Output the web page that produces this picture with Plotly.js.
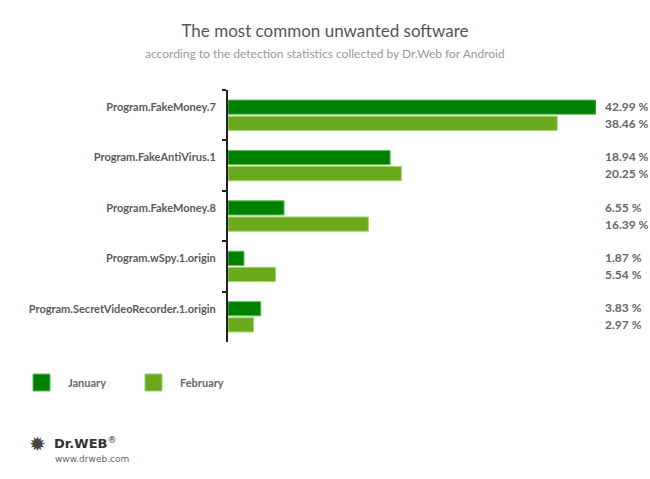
<!DOCTYPE html>
<html>
<head>
<meta charset="utf-8">
<script src="https://cdn.plot.ly/plotly-3.0.1.min.js"></script>
<style>html,body{margin:0;padding:0;background:#fff;}#chart{width:650px;height:479px;}</style>
</head>
<body>
<div id="chart"></div>
<script>
// ---- data ----
var categories = ["Program.FakeMoney.7", "Program.FakeAntiVirus.1", "Program.FakeMoney.8", "Program.wSpy.1.origin", "Program.SecretVideoRecorder.1.origin"];
var seriesNames = ["January", "February"];
var january = [42.99, 18.94, 6.55, 1.87, 3.83];
var february = [38.46, 20.25, 16.39, 5.54, 2.97];
var seriesColors = ["#008000", "#6aa81c"];
var seriesLines = ["#5cbf5c", "#9fd16a"];
var titleText = "The most common unwanted software";
var subtitleText = "according to the detection statistics collected by Dr.Web for Android";

// ---- geometry ----
var W = 650, H = 479;
var M = {l: 228, r: 54, t: 90, b: 137};
var PW = W - M.l - M.r, PH = H - M.t - M.b;
function px(x) { return (x - M.l) / PW; }
function py(y) { return 1 - (y - M.t) / PH; }

var FONT = "Lato, 'Open Sans', sans-serif";
var seriesValues = [january, february];

var traces = seriesValues.map(function (vals, i) {
  return {
    type: "bar",
    orientation: "h",
    name: seriesNames[i],
    y: categories,
    x: vals,
    marker: {color: seriesColors[i], line: {color: seriesLines[i], width: 1}},
    showlegend: false,
    hoverinfo: "x+y"
  };
});

var annotations = [];
// value labels
seriesValues.forEach(function (vals, i) {
  vals.forEach(function (v, j) {
    annotations.push({
      xref: "paper", yref: "y", x: 1, y: categories[j],
      xshift: 7, yshift: i === 0 ? 9 : -8,
      xanchor: "left", yanchor: "middle", showarrow: false,
      text: v.toFixed(2) + " %",
      font: {family: FONT, size: 12, color: "#666", weight: 700}
    });
  });
});
// subtitle
annotations.push({
  xref: "paper", yref: "paper", x: px(325), y: py(53),
  xanchor: "center", yanchor: "middle", showarrow: false,
  text: subtitleText, font: {family: FONT, size: 12, color: "#999"}
});
// legend
var shapes = [];
var legendX = [33, 145];
seriesNames.forEach(function (n, i) {
  shapes.push({
    type: "rect", xref: "paper", yref: "paper",
    x0: px(legendX[i]), x1: px(legendX[i] + 17), y0: py(374), y1: py(391),
    fillcolor: seriesColors[i], line: {color: seriesLines[i], width: 1}
  });
  annotations.push({
    xref: "paper", yref: "paper", x: px(legendX[i] + 33), y: py(382),
    xanchor: "left", yanchor: "middle", showarrow: false,
    text: n, font: {family: FONT, size: 11, color: "#666", weight: 700}
  });
});
// logo
annotations.push({
  xref: "paper", yref: "paper", x: px(27), y: py(444),
  xanchor: "left", yanchor: "middle", showarrow: false,
  text: "✹", font: {family: "DejaVu Sans", size: 20, color: "#444"}
});
annotations.push({
  xref: "paper", yref: "paper", x: px(52), y: py(443),
  xanchor: "left", yanchor: "middle", showarrow: false,
  text: "<b>Dr.WEB</b><sup>®</sup>", font: {family: "'DejaVu Sans', sans-serif", size: 13, color: "#333"}
});
annotations.push({
  xref: "paper", yref: "paper", x: px(53), y: py(459),
  xanchor: "left", yanchor: "middle", showarrow: false,
  text: "www.drweb.com", font: {family: "'DejaVu Sans', sans-serif", size: 9, color: "#666"}
});

var layout = {
  width: W, height: H,
  margin: M,
  paper_bgcolor: "#fff", plot_bgcolor: "#fff",
  title: {
    text: titleText, xref: "container", x: 0.5, yref: "container", y: 1 - 31 / H,
    xanchor: "center", yanchor: "middle",
    font: {family: FONT, size: 17, color: "#555"}
  },
  barmode: "group",
  bargap: 0.36,
  bargroupgap: 0.12,
  xaxis: {range: [0, 42.99], visible: false, fixedrange: true},
  yaxis: {
    autorange: "reversed",
    showline: true, linecolor: "#222", linewidth: 2,
    ticks: "outside", ticklen: 4, tickcolor: "#222", tickwidth: 2,
    tickson: "boundaries",
    ticklabelstandoff: 8,
    ticklabelshift: 8,
    showgrid: false, zeroline: false,
    tickfont: {family: FONT, size: 11, color: "#5a5a5a", weight: 700}
  },
  shapes: shapes,
  annotations: annotations
};

Plotly.newPlot("chart", traces, layout, {displayModeBar: false, staticPlot: true});
</script>
</body>
</html>
